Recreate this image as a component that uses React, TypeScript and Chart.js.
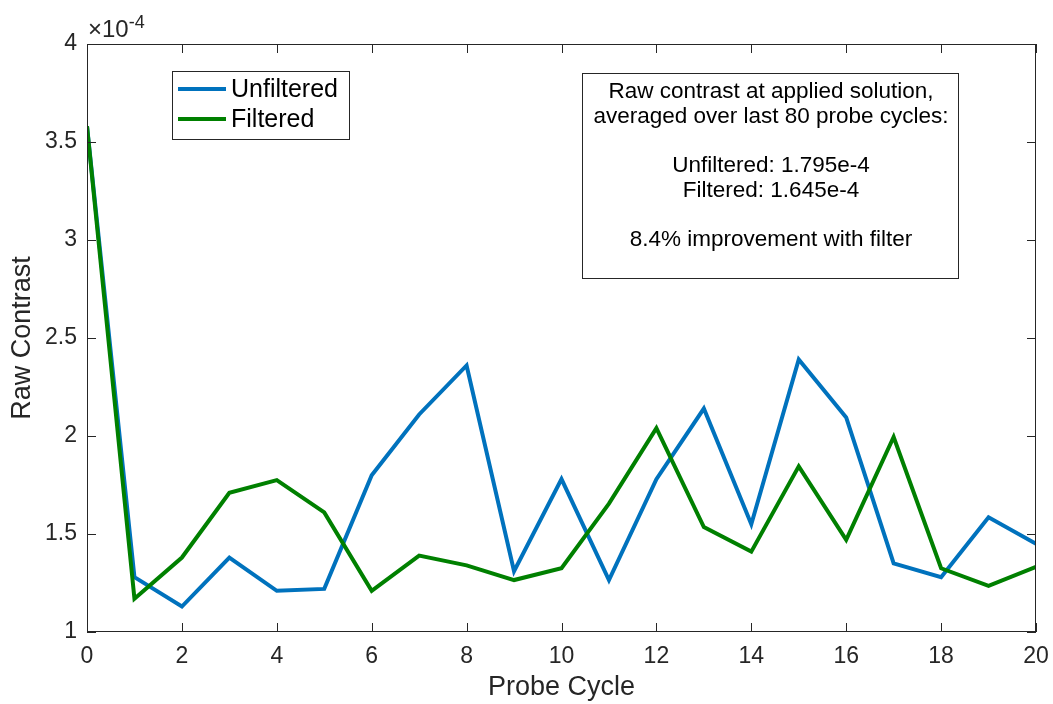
import React, { useEffect, useRef } from "react";
import { Chart, registerables } from "chart.js";

Chart.register(...registerables);

// Values are in units of 1e-4 (axis shows ×10^-4)
const probeCycles = [0, 1, 2, 3, 4, 5, 6, 7, 8, 9, 10, 11, 12, 13, 14, 15, 16, 17, 18, 19, 20];
const unfiltered = [3.58, 1.28, 1.13, 1.38, 1.21, 1.22, 1.80, 2.11, 2.36, 1.31, 1.78, 1.265, 1.78, 2.14, 1.55, 2.39, 2.095, 1.35, 1.28, 1.585, 1.45];
const filtered = [3.58, 1.17, 1.38, 1.71, 1.775, 1.61, 1.21, 1.39, 1.34, 1.265, 1.325, 1.655, 2.04, 1.535, 1.41, 1.845, 1.47, 1.995, 1.325, 1.235, 1.333];
const seriesLabels = ["Unfiltered", "Filtered"];
const seriesColors = ["#0072BD", "#008000"];
const xTickValues = [0, 2, 4, 6, 8, 10, 12, 14, 16, 18, 20];
const yTickValues = [1, 1.5, 2, 2.5, 3, 3.5, 4];
const annotationLines = [
  "Raw contrast at applied solution,",
  "averaged over last 80 probe cycles:",
  "",
  "Unfiltered: 1.795e-4",
  "Filtered: 1.645e-4",
  "",
  "8.4% improvement with filter",
];

const FONT = '"Liberation Sans", Arial, Helvetica, sans-serif';
const AXIS_COLOR = "#262626";

const matlabPlugin = {
  id: "matlabDecor",
  afterDatasetsDraw(chart: any) {
    const { ctx, chartArea } = chart;
    const { left, right, top, bottom } = chartArea;
    const xs = chart.scales.x;
    const ys = chart.scales.y;
    ctx.save();
    // box
    ctx.strokeStyle = AXIS_COLOR;
    ctx.lineWidth = 1;
    ctx.strokeRect(left + 0.5, top + 0.5, right - left - 1, bottom - top - 1);
    // inward ticks
    const tl = 9;
    ctx.beginPath();
    xTickValues.forEach((v) => {
      const px = Math.round(xs.getPixelForValue(v)) + 0.5;
      ctx.moveTo(px, bottom);
      ctx.lineTo(px, bottom - tl);
      ctx.moveTo(px, top);
      ctx.lineTo(px, top + tl);
    });
    yTickValues.forEach((v) => {
      const py = Math.round(ys.getPixelForValue(v)) + 0.5;
      ctx.moveTo(left, py);
      ctx.lineTo(left + tl, py);
      ctx.moveTo(right, py);
      ctx.lineTo(right - tl, py);
    });
    ctx.stroke();

    // exponent label
    ctx.fillStyle = AXIS_COLOR;
    ctx.textBaseline = "alphabetic";
    ctx.textAlign = "left";
    ctx.font = `24px ${FONT}`;
    ctx.fillText("\u00d710", left + 1, 37);
    const w = ctx.measureText("\u00d710").width;
    ctx.font = `18px ${FONT}`;
    ctx.fillText("-4", left + 1 + w, 28);

    // legend
    const lx = 172, ly = 71, lw = 177, lh = 68;
    ctx.fillStyle = "#ffffff";
    ctx.fillRect(lx, ly, lw, lh);
    ctx.strokeStyle = AXIS_COLOR;
    ctx.lineWidth = 1;
    ctx.strokeRect(lx + 0.5, ly + 0.5, lw, lh);
    chart.data.datasets.forEach((ds: any, i: number) => {
      const y = 89 + i * 30;
      ctx.strokeStyle = ds.borderColor;
      ctx.lineWidth = 4;
      ctx.beginPath();
      ctx.moveTo(178, y);
      ctx.lineTo(226, y);
      ctx.stroke();
      ctx.fillStyle = "#000000";
      ctx.font = `25px ${FONT}`;
      ctx.textAlign = "left";
      ctx.textBaseline = "middle";
      ctx.fillText(ds.label, 231, y + 1);
    });

    // annotation box
    const ax = 582, ay = 73, aw = 376, ah = 205;
    ctx.fillStyle = "#ffffff";
    ctx.fillRect(ax, ay, aw, ah);
    ctx.strokeStyle = AXIS_COLOR;
    ctx.lineWidth = 1;
    ctx.strokeRect(ax + 0.5, ay + 0.5, aw, ah);
    ctx.fillStyle = "#000000";
    ctx.font = `22.5px ${FONT}`;
    ctx.textAlign = "center";
    ctx.textBaseline = "middle";
    annotationLines.forEach((t, i) => {
      if (t) ctx.fillText(t, ax + aw / 2 + 1, 92 + i * 24.6);
    });
    ctx.restore();
  },
};

export default function App() {
  const ref = useRef<HTMLCanvasElement>(null);
  useEffect(() => {
    if (!ref.current) return;
    const chart = new Chart(ref.current, {
      type: "line",
      data: {
        datasets: [
          {
            label: seriesLabels[0],
            data: probeCycles.map((x, i) => ({ x, y: unfiltered[i] })),
            borderColor: seriesColors[0],
            backgroundColor: seriesColors[0],
            borderWidth: 4,
            pointRadius: 0,
            tension: 0,
            order: 1,
          },
          {
            label: seriesLabels[1],
            data: probeCycles.map((x, i) => ({ x, y: filtered[i] })),
            borderColor: seriesColors[1],
            backgroundColor: seriesColors[1],
            borderWidth: 4,
            pointRadius: 0,
            tension: 0,
            order: 0,
          },
        ],
      },
      options: {
        animation: false,
        responsive: false,
        devicePixelRatio: 1,
        layout: { padding: { top: 44, right: 17, left: 0, bottom: 0 } },
        plugins: {
          legend: { display: false },
          tooltip: { enabled: false },
        },
        scales: {
          x: {
            type: "linear",
            min: 0,
            max: 20,
            afterBuildTicks: (s: any) => {
              s.ticks = xTickValues.map((v) => ({ value: v }));
            },
            afterFit: (s: any) => {
              s.height = 72;
              s.paddingLeft = 0;
              s.paddingRight = 0;
            },
            grid: { display: false, drawTicks: false },
            border: { display: false },
            ticks: {
              color: AXIS_COLOR,
              font: { family: FONT, size: 23 },
              padding: 11,
              maxRotation: 0,
              autoSkip: false,
            },
            title: {
              display: true,
              text: "Probe Cycle",
              color: AXIS_COLOR,
              font: { family: FONT, size: 27 },
              padding: { top: 0, bottom: 0 },
            },
          },
          y: {
            type: "linear",
            min: 1,
            max: 4,
            afterBuildTicks: (s: any) => {
              s.ticks = yTickValues.map((v) => ({ value: v }));
            },
            afterFit: (s: any) => {
              s.width = 87;
              s.paddingTop = 0;
              s.paddingBottom = 0;
            },
            grid: { display: false, drawTicks: false },
            border: { display: false },
            ticks: {
              color: AXIS_COLOR,
              font: { family: FONT, size: 23 },
              padding: 10,
              autoSkip: false,
              callback: (v: any) => String(v),
            },
            title: {
              display: true,
              text: "Raw Contrast",
              color: AXIS_COLOR,
              font: { family: FONT, size: 27 },
              padding: { top: 6, bottom: 0 },
            },
          },
        },
      },
      plugins: [matlabPlugin],
    });
    return () => chart.destroy();
  }, []);
  return (
    <div style={{ position: "fixed", left: 0, top: 0, width: 1053, height: 704, background: "#fff" }}>
      <canvas ref={ref} width={1053} height={704} style={{ width: 1053, height: 704, display: "block" }} />
    </div>
  );
}
